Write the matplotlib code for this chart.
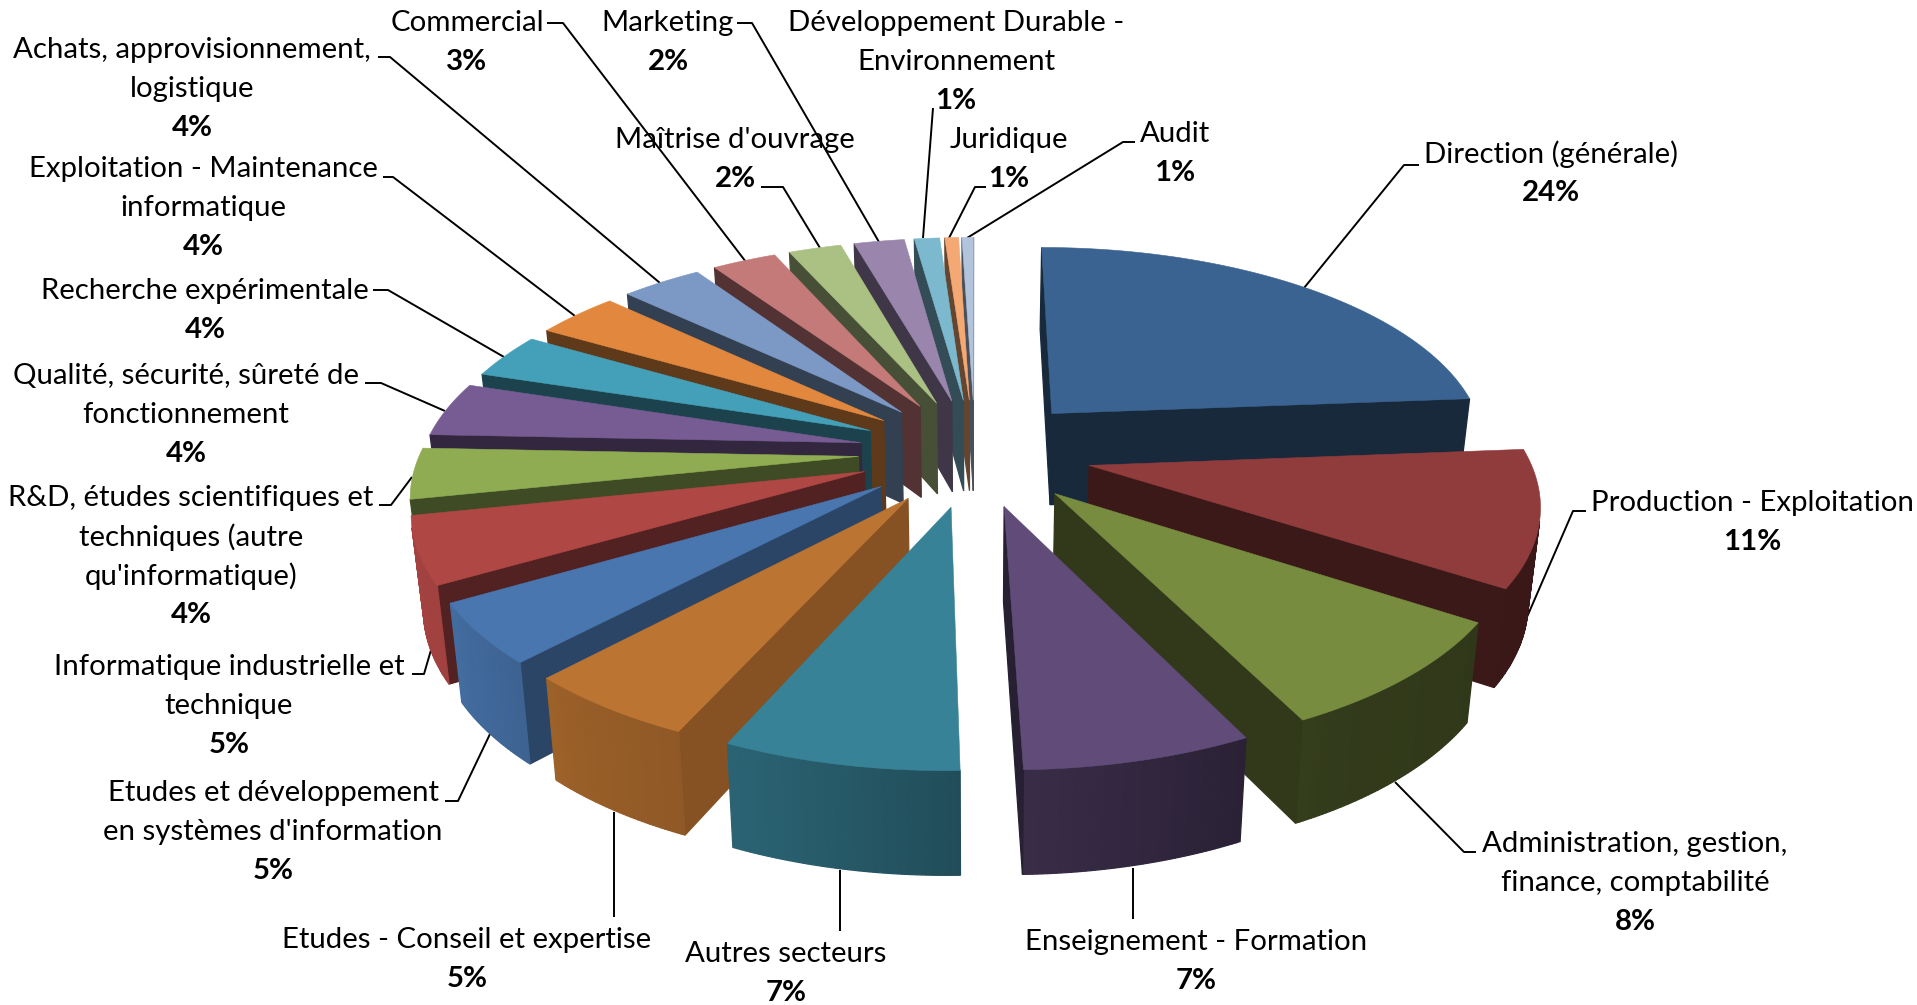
import numpy as np
import matplotlib
matplotlib.use("Agg")
import matplotlib.pyplot as plt

# categories, clockwise from 12 o'clock
categories = [
    "Direction (générale)", "Production - Exploitation",
    "Administration, gestion,\nfinance, comptabilité", "Enseignement - Formation",
    "Autres secteurs", "Etudes - Conseil et expertise",
    "Etudes et développement\nen systèmes d'information",
    "Informatique industrielle et\ntechnique",
    "R&D, études scientifiques et\ntechniques (autre\nqu'informatique)",
    "Qualité, sécurité, sûreté de\nfonctionnement", "Recherche expérimentale",
    "Exploitation - Maintenance\ninformatique",
    "Achats, approvisionnement,\nlogistique", "Commercial", "Maîtrise d'ouvrage",
    "Marketing", "Développement Durable -\nEnvironnement", "Juridique", "Audit",
]
# values, shown_pct is what the labels print
values = [23.7, 10.4, 8.5, 6.9, 7.1, 5.3, 4.6, 5.1, 3.9, 4.2, 3.5, 3.6, 3.5, 2.8, 2.3, 2.2, 1.1, 0.6, 0.5]
shown_pct = [24, 11, 8, 7, 7, 5, 5, 5, 4, 4, 4, 4, 4, 3, 2, 2, 1, 1, 1]

top_colors = ["#3A6391", "#913C3C", "#788C40", "#604B79", "#388297", "#BC7432", "#4976AE",
              "#AF4745", "#8FAC53", "#765C93", "#44A0B8", "#E2883E", "#7C99C5", "#C57A7A",
              "#ABC184", "#9A85AD", "#7CB8CE", "#F4A874", "#B2C3DC"]

# label centre x and first line y, pixels of the full picture
label_pos = [(1551, 154), (1752, 503), (1635, 844), (1196, 942), (786, 954), (467, 940),
             (273, 793), (229, 667), (191, 498), (186, 376), (205, 291), (203, 169),
             (192, 50), (467, 23), (735, 140), (668, 23), (956, 23), (1009, 140), (1175, 134)]
line_step = 39.1

# leader lines, from the label to the slice
leaders = [
    [(1419, 165), (1404, 165), (1304, 288)],
    [(1586, 511), (1573, 511), (1527, 617)],
    [(1476, 852), (1464, 852), (1395, 782)],
    [(1133, 919), (1133, 868)],
    [(840, 931), (840, 870)],
    [(614, 917), (614, 812)],
    [(445, 801), (458, 801), (490, 734)],
    [(412, 674), (424, 674), (431, 650)],
    [(379, 505), (391, 505), (412, 477)],
    [(365, 383), (381, 383), (445, 411)],
    [(373, 290), (388, 290), (504, 357)],
    [(383, 177), (393, 177), (575, 316)],
    [(378, 57), (390, 57), (660, 283)],
    [(547, 23), (563, 23), (746, 262)],
    [(761, 187), (783, 187), (820, 248)],
    [(737, 23), (752, 23), (879, 242)],
    [(933, 108), (923, 238)],
    [(986, 187), (975, 187), (949, 238)],
    [(1135, 142), (1123, 142), (967, 238)],
]

# projection of the pie, fitted on the picture
cx, cy = 975, 452
scale_x, scale_y = 438, 203
persp = 0.156
explode = 0.266
depth = 93


def project(x, y):
    d = 1 - persp * y
    return cx + scale_x * x / d, cy + scale_y * y / d


def drop(sx, sy, y):
    # bottom face of the slice, seen below the top one
    return cx + (sx - cx) * 0.978, sy + depth * (1 + 0.1 * y)


def shoelace(pts):
    p = np.array(pts)
    return np.sum(p[:, 0] * np.roll(p[:, 1], -1) - np.roll(p[:, 0], -1) * p[:, 1])


def shade(color, f):
    return tuple(c * f for c in matplotlib.colors.to_rgb(color))


def outer_factor(a):
    return np.interp(a, [120, 150, 177, 201, 220, 240, 270], [.40, .42, .58, .75, .82, .92, .95])


def first_edge_factor(a):
    return np.interp(a, [150, 201, 219, 236, 254, 270, 360], [.41, .73, .62, .48, .44, .42, .41])


fig = plt.figure(figsize=(19.17, 10.05), dpi=100)
ax = fig.add_axes([0, 0, 1, 1])
ax.set_xlim(0, 1917)
ax.set_ylim(1005, 0)
ax.axis("off")

for line in leaders:
    ax.plot([p[0] for p in line], [p[1] for p in line], color="black", lw=1.4, zorder=1, solid_capstyle="butt")

vals = np.array(values)
edges = np.concatenate([[0], np.cumsum(vals)]) / vals.sum() * 360
mids = (edges[:-1] + edges[1:]) / 2

# back slices first
order = np.argsort(-np.cos(np.radians(mids)))
z = 2
for i in order:
    a0, a1, mid = edges[i], edges[i + 1], np.radians(mids[i])
    ox, oy = explode * np.sin(mid), -explode * np.cos(mid)
    arc = np.radians(np.linspace(a0, a1, max(int(a1 - a0) * 2, 3)))
    xs = np.concatenate([[ox], ox + np.sin(arc)])
    ys = np.concatenate([[oy], oy - np.cos(arc)])
    top = [project(x, y) for x, y in zip(xs, ys)]
    bot = [drop(p[0], p[1], y) for p, y in zip(top, ys)]
    n = len(top)
    for k in range(n):
        j = (k + 1) % n
        quad = [top[k], top[j], bot[j], bot[k]]
        if shoelace(quad) >= 0:
            continue
        if k == 0:
            col = shade(top_colors[i], first_edge_factor(a0))
        elif k == n - 1:
            col = shade(top_colors[i], 0.41)
        else:
            col = shade(top_colors[i], outer_factor(np.degrees((arc[k - 1] + arc[k]) / 2)))
        # thick enough edge so the strips of the curved side do not show seams
        ax.fill([p[0] for p in quad], [p[1] for p in quad], color=col, lw=0.9, zorder=z)
    ax.fill([p[0] for p in top], [p[1] for p in top], color=top_colors[i], lw=0.4, zorder=z + 1)
    z += 2

font = "Lato"
size = 21.2
for name, pct, (lx, ly) in zip(categories, shown_pct, label_pos):
    rows = name.split("\n")
    for k, row in enumerate(rows):
        ax.text(lx, ly + k * line_step, row, ha="center", va="center", fontsize=size, family=font, color="black", zorder=100)
    ax.text(lx, ly + len(rows) * line_step, f"{pct}%", ha="center", va="center", fontsize=size, family=font,
            fontweight="bold", color="black", zorder=100)

fig.savefig("out.png", dpi=100)
